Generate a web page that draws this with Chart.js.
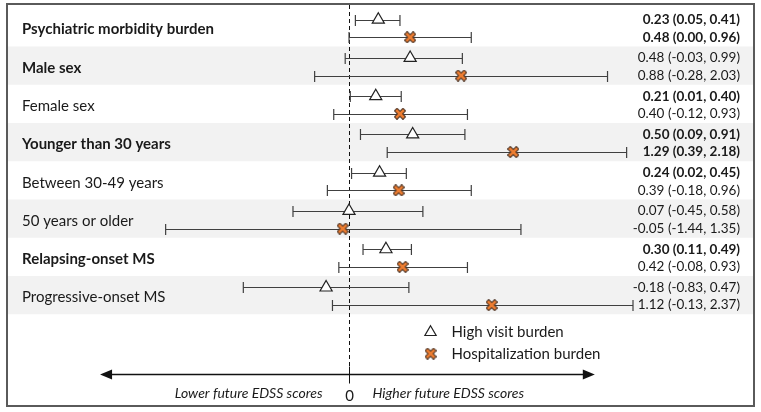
<!DOCTYPE html>
<html>
<head>
<meta charset="utf-8">
<script src="https://cdn.jsdelivr.net/npm/chart.js@4/dist/chart.umd.min.js"></script>
<style>
html,body{margin:0;padding:0;background:#fff;}
#c{display:block;}
</style>
</head>
<body>
<canvas id="c" width="761" height="412"></canvas>
<script>
// ---- data ----
const categories = ["Psychiatric morbidity burden","Male sex","Female sex","Younger than 30 years","Between 30-49 years","50 years or older","Relapsing-onset MS","Progressive-onset MS"];
const categoryBold = [true,true,false,true,false,false,true,false];
// positions of the marks as drawn in the picture
const visitEst = [0.23,0.48,0.21,0.50,0.24,0.00,0.29,-0.18];
const visitLo  = [0.05,-0.03,0.01,0.09,0.02,-0.44,0.11,-0.83];
const visitHi  = [0.40,0.89,0.41,0.91,0.45,0.58,0.49,0.47];
const hospEst  = [0.48,0.88,0.40,1.29,0.39,-0.05,0.42,1.12];
const hospLo   = [0.00,-0.27,-0.12,0.30,-0.17,-1.44,-0.08,-0.13];
const hospHi   = [0.96,2.03,0.93,2.18,0.96,1.35,0.93,2.23];
// printed estimate labels
const visitText = ["0.23 (0.05, 0.41)","0.48 (-0.03, 0.99)","0.21 (0.01, 0.40)","0.50 (0.09, 0.91)","0.24 (0.02, 0.45)","0.07 (-0.45, 0.58)","0.30 (0.11, 0.49)","-0.18 (-0.83, 0.47)"];
const hospText  = ["0.48 (0.00, 0.96)","0.88 (-0.28, 2.03)","0.40 (-0.12, 0.93)","1.29 (0.39, 2.18)","0.39 (-0.18, 0.96)","-0.05 (-1.44, 1.35)","0.42 (-0.08, 0.93)","1.12 (-0.13, 2.37)"];
const visitBold = [true,false,true,true,true,false,true,false];
const hospBold  = [true,false,false,true,false,false,false,false];
const seriesNames = ["High visit burden","Hospitalization burden"];
const axisLabels = ["Lower future EDSS scores","0","Higher future EDSS scores"];

const VIS_OFF = 0.3, HOSP_OFF = 0.76, LABEL_OFF = 0.56;
const FONT = "Lato, 'Open Sans', sans-serif";
const TXT = "#1a1a1a";
const ORANGE = "#ED7D31";

// X marker image
function makeX(){
  const s = 12, cv = document.createElement('canvas');
  cv.width = s; cv.height = s;
  const g = cv.getContext('2d');
  const c = s/2, a = 3;
  g.lineCap = 'square';
  g.strokeStyle = '#4a3020'; g.lineWidth = 4.6;
  g.beginPath(); g.moveTo(c-a,c-a); g.lineTo(c+a,c+a); g.moveTo(c+a,c-a); g.lineTo(c-a,c+a); g.stroke();
  g.strokeStyle = ORANGE; g.lineWidth = 2.6;
  g.beginPath(); g.moveTo(c-a,c-a); g.lineTo(c+a,c+a); g.moveTo(c+a,c-a); g.lineTo(c-a,c+a); g.stroke();
  return cv;
}
const xImg = makeX();

const visitPts = visitEst.map((v,i)=>({x:v, y:i+VIS_OFF}));
const hospPts = hospEst.map((v,i)=>({x:v, y:i+HOSP_OFF}));

const forestPlugin = {
  id:'forest',
  beforeDraw(chart){
    const ctx = chart.ctx, y = chart.scales.y;
    ctx.save();
    ctx.fillStyle = '#fff'; ctx.fillRect(0,0,chart.width,chart.height);
    for(let i=0;i<categories.length;i++){
      if(i%2===1){
        const t = y.getPixelForValue(i), b = y.getPixelForValue(i+1);
        ctx.fillStyle = '#f2f2f2';
        ctx.fillRect(7, t, 746, b-t);
      }
    }
    ctx.restore();
  },
  beforeDatasetsDraw(chart){
    const ctx = chart.ctx, x = chart.scales.x, y = chart.scales.y;
    ctx.save();
    const x0 = Math.round(x.getPixelForValue(0))+0.5;
    const arrowY = Math.round(y.getPixelForValue(9.57))+0.5;
    // zero line
    ctx.strokeStyle = '#111'; ctx.lineWidth = 1; ctx.setLineDash([4,3]);
    ctx.beginPath(); ctx.moveTo(x0, 5); ctx.lineTo(x0, arrowY-8); ctx.stroke();
    ctx.setLineDash([]);
    // error bars
    function bar(lo, hi, yv){
      const l = x.getPixelForValue(lo), r = x.getPixelForValue(hi);
      const py = Math.round(y.getPixelForValue(yv))+0.5;
      ctx.strokeStyle = '#404040'; ctx.lineWidth = 1.2;
      ctx.beginPath();
      ctx.moveTo(l,py); ctx.lineTo(r,py);
      ctx.moveTo(l,py-5.5); ctx.lineTo(l,py+5.5);
      ctx.moveTo(r,py-5.5); ctx.lineTo(r,py+5.5);
      ctx.stroke();
    }
    for(let i=0;i<categories.length;i++){
      bar(visitLo[i], visitHi[i], i+VIS_OFF);
      bar(hospLo[i], hospHi[i], i+HOSP_OFF);
    }
    // arrow axis
    const al = x.getPixelForValue(-1.955), ar = x.getPixelForValue(1.93);
    ctx.strokeStyle = '#111'; ctx.fillStyle = '#111'; ctx.lineWidth = 1.3;
    ctx.beginPath(); ctx.moveTo(al+6, arrowY); ctx.lineTo(ar-6, arrowY); ctx.stroke();
    ctx.beginPath(); ctx.moveTo(al, arrowY); ctx.lineTo(al+12, arrowY-5); ctx.lineTo(al+12, arrowY+5); ctx.closePath(); ctx.fill();
    ctx.beginPath(); ctx.moveTo(ar, arrowY); ctx.lineTo(ar-12, arrowY-5); ctx.lineTo(ar-12, arrowY+5); ctx.closePath(); ctx.fill();
    ctx.lineWidth = 1;
    ctx.beginPath(); ctx.moveTo(x0, arrowY-8); ctx.lineTo(x0, arrowY+9); ctx.stroke();
    // axis labels
    ctx.fillStyle = TXT; ctx.textBaseline = 'middle';
    ctx.font = "italic 14px " + FONT;
    ctx.textAlign = 'right'; ctx.fillText(axisLabels[0], x0-27, arrowY+19);
    ctx.textAlign = 'left'; ctx.fillText(axisLabels[2], x0+23, arrowY+19);
    ctx.font = "15px " + FONT; ctx.textAlign = 'center';
    ctx.fillText(axisLabels[1], x0, arrowY+22);
    ctx.restore();
  },
  afterDraw(chart){
    const ctx = chart.ctx, x = chart.scales.x, y = chart.scales.y;
    ctx.save();
    ctx.fillStyle = TXT; ctx.textBaseline = 'middle';
    for(let i=0;i<categories.length;i++){
      ctx.textAlign = 'left';
      ctx.font = (categoryBold[i] ? "bold " : "") + "15px " + FONT;
      ctx.fillText(categories[i], 22, y.getPixelForValue(i+LABEL_OFF));
      ctx.textAlign = 'right';
      ctx.font = (visitBold[i] ? "bold " : "") + "13.5px " + FONT;
      ctx.fillText(visitText[i], 740, y.getPixelForValue(i+VIS_OFF));
      ctx.font = (hospBold[i] ? "bold " : "") + "13.5px " + FONT;
      ctx.fillText(hospText[i], 740, y.getPixelForValue(i+HOSP_OFF));
    }
    // legend
    const lx = x.getPixelForValue(0.64);
    const ly1 = y.getPixelForValue(8.47), ly2 = y.getPixelForValue(9.03);
    const r = 6.5;
    ctx.strokeStyle = '#222'; ctx.lineWidth = 1.2; ctx.fillStyle = '#fff';
    ctx.beginPath();
    ctx.moveTo(lx, ly1 - r);
    ctx.lineTo(lx + r*Math.sin(Math.PI*2/3), ly1 - r*Math.cos(Math.PI*2/3));
    ctx.lineTo(lx + r*Math.sin(Math.PI*4/3), ly1 - r*Math.cos(Math.PI*4/3));
    ctx.closePath(); ctx.fill(); ctx.stroke();
    ctx.drawImage(xImg, lx - xImg.width/2, ly2 - xImg.height/2);
    ctx.fillStyle = TXT; ctx.textAlign = 'left'; ctx.font = "15px " + FONT;
    ctx.fillText(seriesNames[0], lx + 21, ly1);
    ctx.fillText(seriesNames[1], lx + 21, ly2);
    // border
    ctx.strokeStyle = '#5a5a5a'; ctx.lineWidth = 2;
    ctx.strokeRect(7, 4, 747, 402);
    ctx.restore();
  }
};

new Chart(document.getElementById('c'), {
  type:'scatter',
  data:{
    datasets:[
      {label:seriesNames[0], data:visitPts, pointStyle:'triangle', pointRadius:7, pointBackgroundColor:'#fff', pointBorderColor:'#222', pointBorderWidth:1.2, clip:false},
      {label:seriesNames[1], data:hospPts, pointStyle:xImg, pointRadius:6, clip:false}
    ]
  },
  options:{
    responsive:false, animation:false, devicePixelRatio:1,
    layout:{padding:{left:158, right:128, top:0, bottom:8}},
    plugins:{legend:{display:false}, tooltip:{enabled:false}},
    scales:{
      x:{type:'linear', min:-1.5, max:2.23, display:false},
      y:{type:'linear', min:0, max:10.34, reverse:true, display:false}
    }
  },
  plugins:[forestPlugin]
});
</script>
</body>
</html>
